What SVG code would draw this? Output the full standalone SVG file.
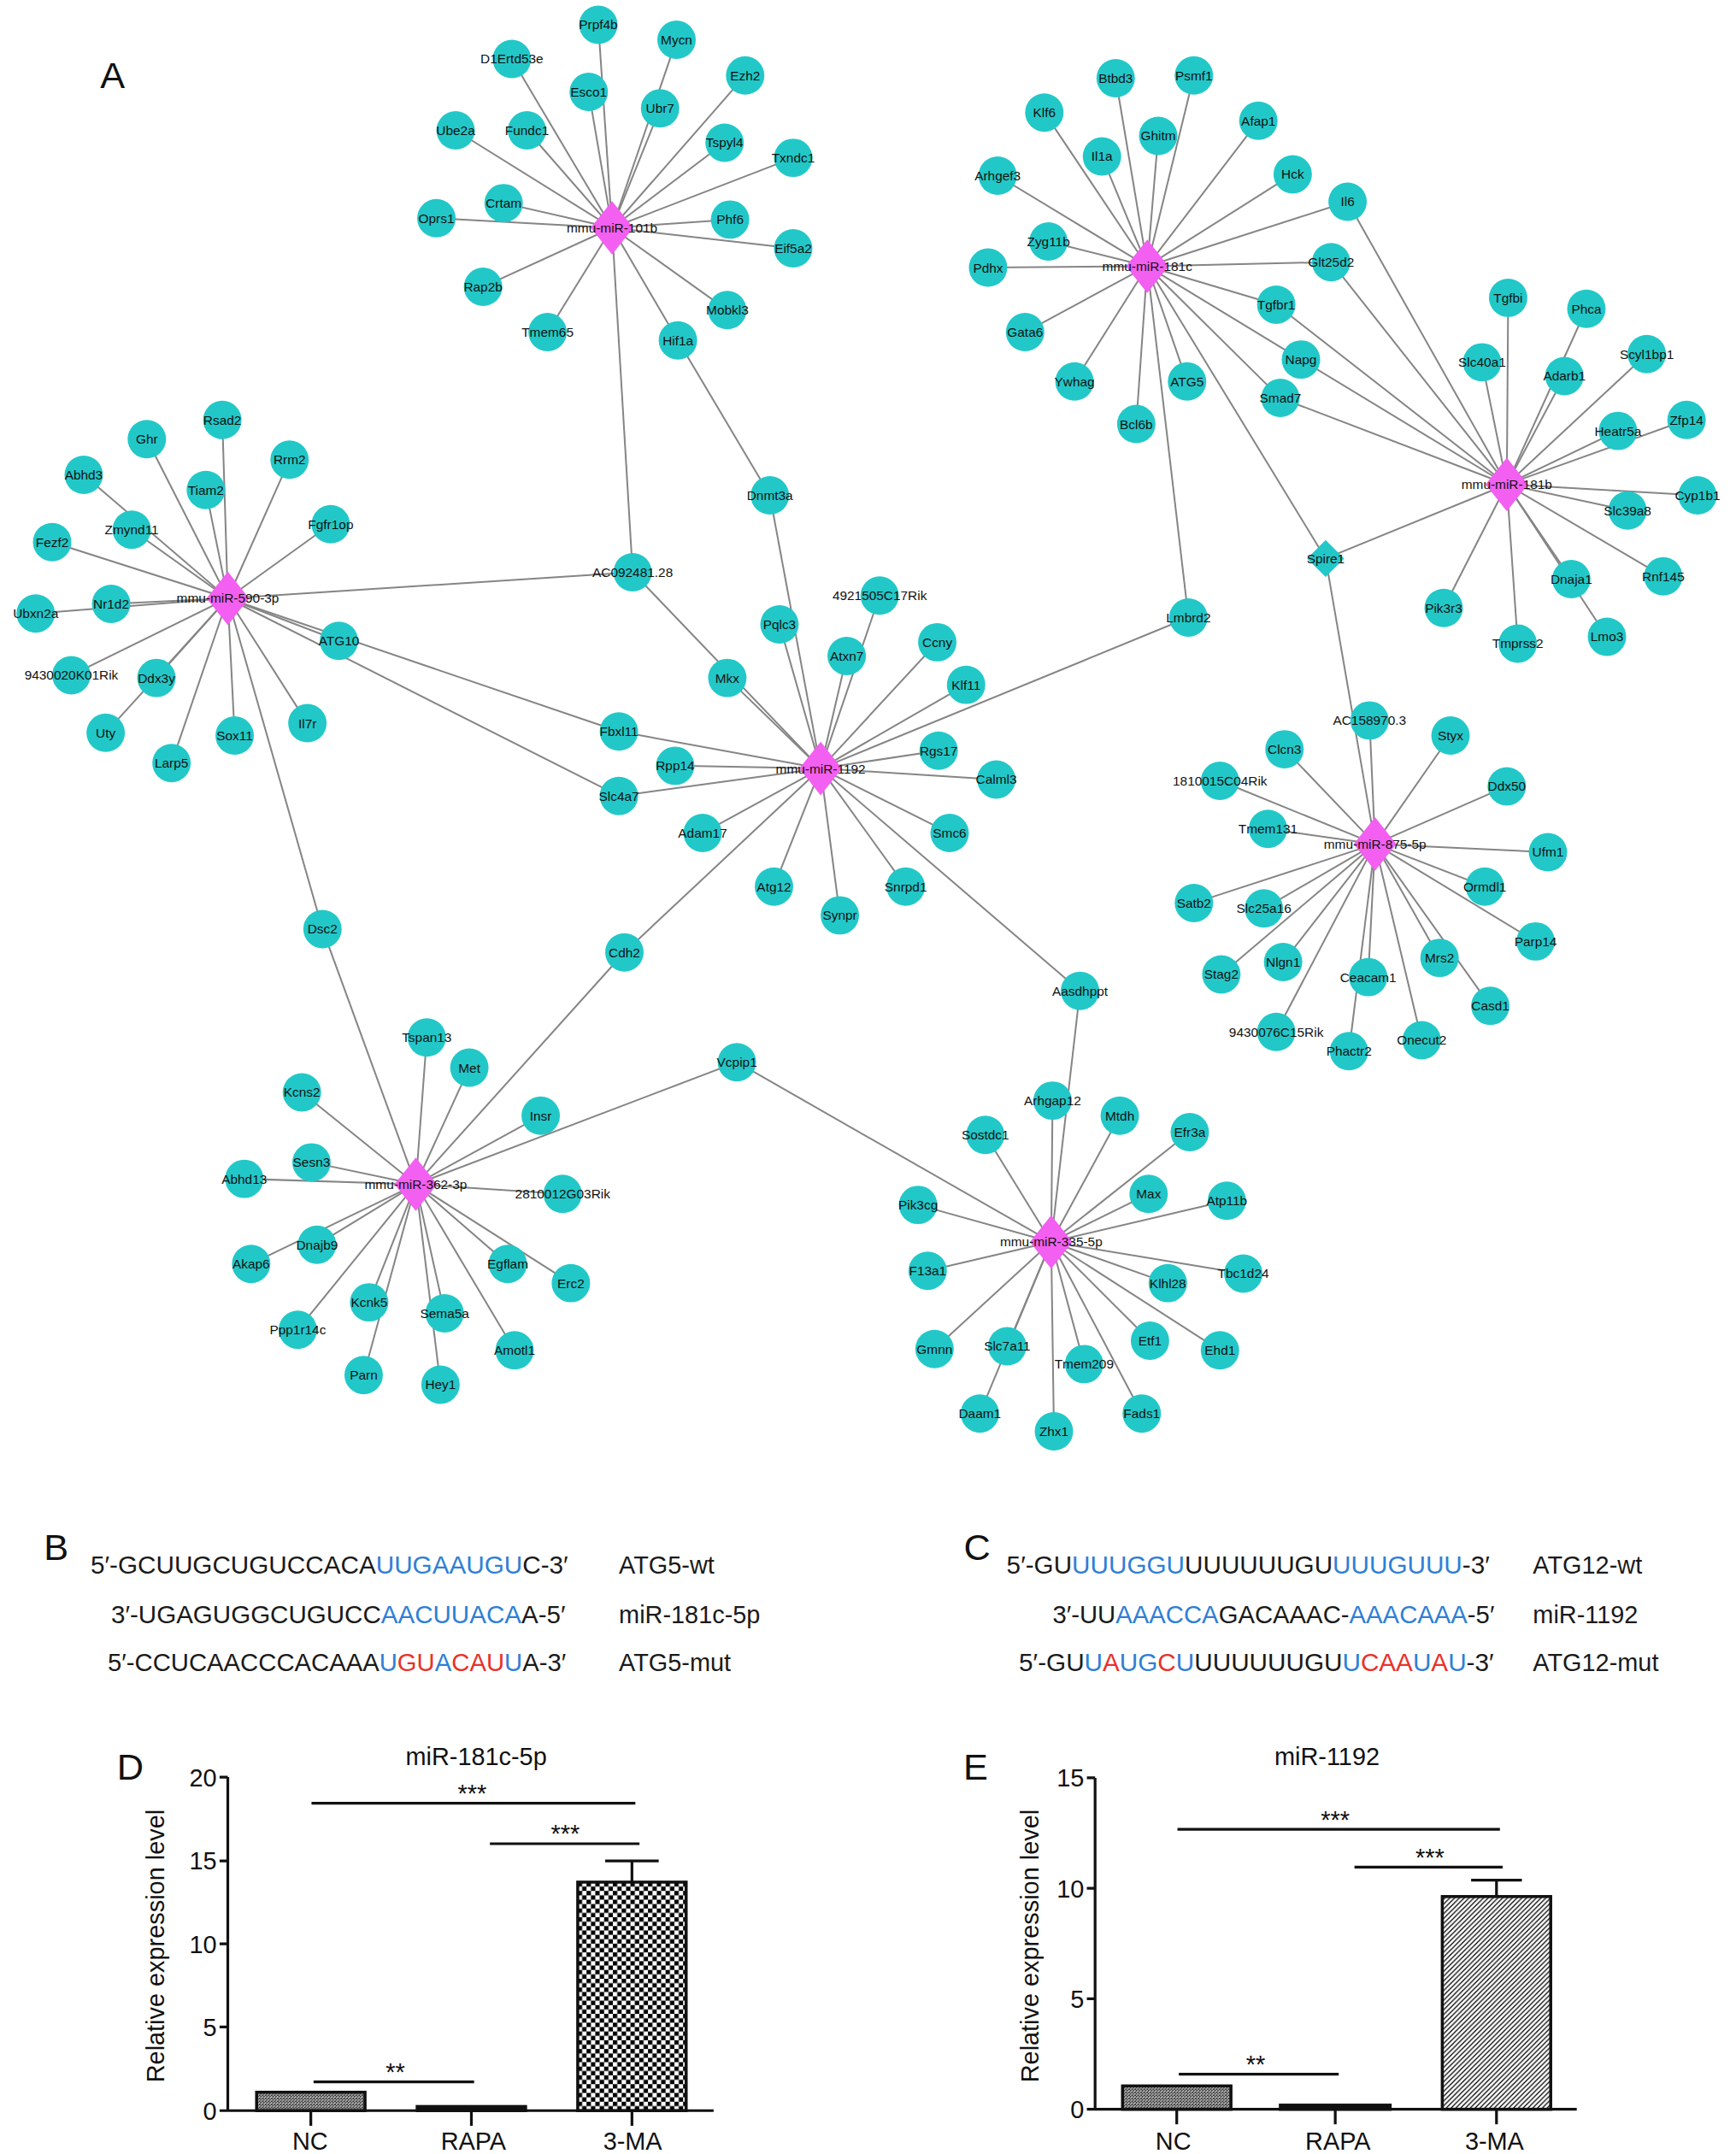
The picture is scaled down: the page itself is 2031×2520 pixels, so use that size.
<svg xmlns="http://www.w3.org/2000/svg" xmlns:xlink="http://www.w3.org/1999/xlink" width="2031" height="2520" viewBox="0 0 2031 2520">
<style>
.e line{stroke:#858585;stroke-width:1.25}
.g circle{fill:#22c8c8}
.nt{font-family:"Liberation Sans",Arial,sans-serif;font-size:9.6px;fill:#111;text-anchor:middle}
.big{font-family:"Liberation Sans",Arial,sans-serif;font-size:27px;fill:#111;text-anchor:middle}
.seq{font-family:"Liberation Sans",Arial,sans-serif;font-size:18px;fill:#1a1a1a}
.bl{fill:#2f7fd6}
.rd{fill:#e8322c}
.ax{stroke:#111;stroke-width:2;fill:none}
.bar{stroke:#111;stroke-width:2.2}
.lab{font-family:"Liberation Sans",Arial,sans-serif;font-size:18px;fill:#111}
.mid{text-anchor:middle}
.end{text-anchor:end}
</style>
<defs>
<polygon id="dia" points="0,-19.5 15.5,0 0,19.5 -15.5,0" fill="#f35ff0"/>
<polygon id="dia2" points="0,-13.5 13.5,0 0,13.5 -13.5,0" fill="#22c8c8"/>
<pattern id="fine" patternUnits="userSpaceOnUse" width="2.2" height="2.2">
<rect width="2.2" height="2.2" fill="#fff"/>
<path d="M0,0L2.2,2.2M2.2,0L0,2.2" stroke="#333" stroke-width="0.7"/>
</pattern>
<pattern id="chk" patternUnits="userSpaceOnUse" x="421" y="1371.5" width="6.4" height="6.4">
<rect width="6.4" height="6.4" fill="#fff"/>
<rect width="3.2" height="3.2" fill="#000"/>
<rect x="3.2" y="3.2" width="3.2" height="3.2" fill="#000"/>
</pattern>
<pattern id="str" patternUnits="userSpaceOnUse" width="3.5" height="3.5">
<rect width="3.5" height="3.5" fill="#fff"/>
<path d="M0,3.5L3.5,0M-1,1L1,-1M2.5,4.5L4.5,2.5" stroke="#000" stroke-width="0.8"/>
</pattern>
</defs>
<rect width="2031" height="2520" fill="#fff"/>
<g transform="scale(1.6055)">
<g id="connectors" class="e">
<line x1="446" y1="166" x2="436" y2="18"/>
<line x1="446" y1="166" x2="493" y2="29"/>
<line x1="446" y1="166" x2="373" y2="43"/>
<line x1="446" y1="166" x2="543" y2="55"/>
<line x1="446" y1="166" x2="429" y2="67"/>
<line x1="446" y1="166" x2="481" y2="79"/>
<line x1="446" y1="166" x2="332" y2="95"/>
<line x1="446" y1="166" x2="384" y2="95"/>
<line x1="446" y1="166" x2="528" y2="104"/>
<line x1="446" y1="166" x2="578" y2="115"/>
<line x1="446" y1="166" x2="367" y2="148"/>
<line x1="446" y1="166" x2="318" y2="159"/>
<line x1="446" y1="166" x2="532" y2="160"/>
<line x1="446" y1="166" x2="578" y2="181"/>
<line x1="446" y1="166" x2="352" y2="209"/>
<line x1="446" y1="166" x2="530" y2="226"/>
<line x1="446" y1="166" x2="399" y2="242"/>
<line x1="446" y1="166" x2="494" y2="248"/>
<line x1="446" y1="166" x2="461" y2="417"/>
<line x1="494" y1="248" x2="561" y2="361"/>
<line x1="836" y1="194" x2="813" y2="57"/>
<line x1="836" y1="194" x2="870" y2="55"/>
<line x1="836" y1="194" x2="761" y2="82"/>
<line x1="836" y1="194" x2="917" y2="88"/>
<line x1="836" y1="194" x2="803" y2="114"/>
<line x1="836" y1="194" x2="844" y2="99"/>
<line x1="836" y1="194" x2="727" y2="128"/>
<line x1="836" y1="194" x2="942" y2="127"/>
<line x1="836" y1="194" x2="982" y2="147"/>
<line x1="836" y1="194" x2="764" y2="176"/>
<line x1="836" y1="194" x2="720" y2="195"/>
<line x1="836" y1="194" x2="970" y2="191"/>
<line x1="836" y1="194" x2="930" y2="222"/>
<line x1="836" y1="194" x2="747" y2="242"/>
<line x1="836" y1="194" x2="948" y2="262"/>
<line x1="836" y1="194" x2="783" y2="278"/>
<line x1="836" y1="194" x2="865" y2="278"/>
<line x1="836" y1="194" x2="933" y2="290"/>
<line x1="836" y1="194" x2="828" y2="309"/>
<line x1="836" y1="194" x2="866" y2="450"/>
<line x1="836" y1="194" x2="966" y2="407"/>
<line x1="1098" y1="353" x2="982" y2="147"/>
<line x1="1098" y1="353" x2="970" y2="191"/>
<line x1="1098" y1="353" x2="930" y2="222"/>
<line x1="1098" y1="353" x2="948" y2="262"/>
<line x1="1098" y1="353" x2="933" y2="290"/>
<line x1="1098" y1="353" x2="1099" y2="217"/>
<line x1="1098" y1="353" x2="1156" y2="225"/>
<line x1="1098" y1="353" x2="1200" y2="258"/>
<line x1="1098" y1="353" x2="1080" y2="264"/>
<line x1="1098" y1="353" x2="1140" y2="274"/>
<line x1="1098" y1="353" x2="1229" y2="306"/>
<line x1="1098" y1="353" x2="1179" y2="314"/>
<line x1="1098" y1="353" x2="1237" y2="361"/>
<line x1="1098" y1="353" x2="1186" y2="372"/>
<line x1="1098" y1="353" x2="1212" y2="420"/>
<line x1="1098" y1="353" x2="1145" y2="422"/>
<line x1="1098" y1="353" x2="1052" y2="443"/>
<line x1="1098" y1="353" x2="1171" y2="464"/>
<line x1="1098" y1="353" x2="1106" y2="469"/>
<line x1="1098" y1="353" x2="966" y2="407"/>
<line x1="1002" y1="615" x2="998" y2="525"/>
<line x1="1002" y1="615" x2="1057" y2="536"/>
<line x1="1002" y1="615" x2="936" y2="546"/>
<line x1="1002" y1="615" x2="889" y2="569"/>
<line x1="1002" y1="615" x2="1098" y2="573"/>
<line x1="1002" y1="615" x2="924" y2="604"/>
<line x1="1002" y1="615" x2="1128" y2="621"/>
<line x1="1002" y1="615" x2="1082" y2="646"/>
<line x1="1002" y1="615" x2="870" y2="658"/>
<line x1="1002" y1="615" x2="921" y2="662"/>
<line x1="1002" y1="615" x2="1119" y2="686"/>
<line x1="1002" y1="615" x2="890" y2="710"/>
<line x1="1002" y1="615" x2="935" y2="701"/>
<line x1="1002" y1="615" x2="1049" y2="698"/>
<line x1="1002" y1="615" x2="997" y2="712"/>
<line x1="1002" y1="615" x2="1086" y2="733"/>
<line x1="1002" y1="615" x2="930" y2="752"/>
<line x1="1002" y1="615" x2="1036" y2="758"/>
<line x1="1002" y1="615" x2="983" y2="766"/>
<line x1="1002" y1="615" x2="966" y2="407"/>
<line x1="598" y1="560" x2="641" y2="434"/>
<line x1="598" y1="560" x2="568" y2="455"/>
<line x1="598" y1="560" x2="617" y2="478"/>
<line x1="598" y1="560" x2="683" y2="468"/>
<line x1="598" y1="560" x2="866" y2="450"/>
<line x1="598" y1="560" x2="530" y2="494"/>
<line x1="598" y1="560" x2="704" y2="499"/>
<line x1="598" y1="560" x2="451" y2="533"/>
<line x1="598" y1="560" x2="492" y2="558"/>
<line x1="598" y1="560" x2="684" y2="547"/>
<line x1="598" y1="560" x2="726" y2="568"/>
<line x1="598" y1="560" x2="451" y2="580"/>
<line x1="598" y1="560" x2="512" y2="607"/>
<line x1="598" y1="560" x2="692" y2="607"/>
<line x1="598" y1="560" x2="564" y2="646"/>
<line x1="598" y1="560" x2="660" y2="646"/>
<line x1="598" y1="560" x2="612" y2="667"/>
<line x1="598" y1="560" x2="455" y2="694"/>
<line x1="598" y1="560" x2="561" y2="361"/>
<line x1="598" y1="560" x2="461" y2="417"/>
<line x1="598" y1="560" x2="787" y2="722"/>
<line x1="166" y1="436" x2="162" y2="306"/>
<line x1="166" y1="436" x2="107" y2="320"/>
<line x1="166" y1="436" x2="211" y2="335"/>
<line x1="166" y1="436" x2="61" y2="346"/>
<line x1="166" y1="436" x2="150" y2="357"/>
<line x1="166" y1="436" x2="96" y2="386"/>
<line x1="166" y1="436" x2="241" y2="382"/>
<line x1="166" y1="436" x2="38" y2="395"/>
<line x1="166" y1="436" x2="81" y2="440"/>
<line x1="166" y1="436" x2="26" y2="447"/>
<line x1="166" y1="436" x2="247" y2="467"/>
<line x1="166" y1="436" x2="52" y2="492"/>
<line x1="166" y1="436" x2="114" y2="494"/>
<line x1="166" y1="436" x2="224" y2="527"/>
<line x1="166" y1="436" x2="77" y2="534"/>
<line x1="166" y1="436" x2="171" y2="536"/>
<line x1="166" y1="436" x2="125" y2="556"/>
<line x1="166" y1="436" x2="461" y2="417"/>
<line x1="166" y1="436" x2="235" y2="677"/>
<line x1="166" y1="436" x2="451" y2="533"/>
<line x1="166" y1="436" x2="451" y2="580"/>
<line x1="303" y1="863" x2="311" y2="756"/>
<line x1="303" y1="863" x2="342" y2="778"/>
<line x1="303" y1="863" x2="220" y2="796"/>
<line x1="303" y1="863" x2="394" y2="813"/>
<line x1="303" y1="863" x2="227" y2="847"/>
<line x1="303" y1="863" x2="178" y2="859"/>
<line x1="303" y1="863" x2="410" y2="870"/>
<line x1="303" y1="863" x2="231" y2="907"/>
<line x1="303" y1="863" x2="183" y2="921"/>
<line x1="303" y1="863" x2="370" y2="921"/>
<line x1="303" y1="863" x2="416" y2="935"/>
<line x1="303" y1="863" x2="269" y2="949"/>
<line x1="303" y1="863" x2="324" y2="957"/>
<line x1="303" y1="863" x2="217" y2="969"/>
<line x1="303" y1="863" x2="375" y2="984"/>
<line x1="303" y1="863" x2="265" y2="1002"/>
<line x1="303" y1="863" x2="321" y2="1009"/>
<line x1="303" y1="863" x2="537" y2="774"/>
<line x1="303" y1="863" x2="455" y2="694"/>
<line x1="303" y1="863" x2="235" y2="677"/>
<line x1="766" y1="905" x2="767" y2="802"/>
<line x1="766" y1="905" x2="816" y2="813"/>
<line x1="766" y1="905" x2="718" y2="827"/>
<line x1="766" y1="905" x2="867" y2="825"/>
<line x1="766" y1="905" x2="837" y2="870"/>
<line x1="766" y1="905" x2="669" y2="878"/>
<line x1="766" y1="905" x2="894" y2="875"/>
<line x1="766" y1="905" x2="676" y2="926"/>
<line x1="766" y1="905" x2="906" y2="928"/>
<line x1="766" y1="905" x2="851" y2="935"/>
<line x1="766" y1="905" x2="838" y2="977"/>
<line x1="766" y1="905" x2="889" y2="984"/>
<line x1="766" y1="905" x2="681" y2="983"/>
<line x1="766" y1="905" x2="734" y2="981"/>
<line x1="766" y1="905" x2="790" y2="994"/>
<line x1="766" y1="905" x2="832" y2="1030"/>
<line x1="766" y1="905" x2="714" y2="1030"/>
<line x1="766" y1="905" x2="768" y2="1043"/>
<line x1="766" y1="905" x2="787" y2="722"/>
<line x1="766" y1="905" x2="537" y2="774"/>
</g>
<g id="nodes">
<g id="n-Prpf4b" class="g"><circle cx="436" cy="18" r="14"/><text class="nt" x="436" y="21.4">Prpf4b</text></g>
<g id="n-Mycn" class="g"><circle cx="493" cy="29" r="14"/><text class="nt" x="493" y="32.4">Mycn</text></g>
<g id="n-D1Ertd53e" class="g"><circle cx="373" cy="43" r="14"/><text class="nt" x="373" y="46.4">D1Ertd53e</text></g>
<g id="n-Ezh2" class="g"><circle cx="543" cy="55" r="14"/><text class="nt" x="543" y="58.4">Ezh2</text></g>
<g id="n-Esco1" class="g"><circle cx="429" cy="67" r="14"/><text class="nt" x="429" y="70.4">Esco1</text></g>
<g id="n-Ubr7" class="g"><circle cx="481" cy="79" r="14"/><text class="nt" x="481" y="82.4">Ubr7</text></g>
<g id="n-Ube2a" class="g"><circle cx="332" cy="95" r="14"/><text class="nt" x="332" y="98.4">Ube2a</text></g>
<g id="n-Fundc1" class="g"><circle cx="384" cy="95" r="14"/><text class="nt" x="384" y="98.4">Fundc1</text></g>
<g id="n-Tspyl4" class="g"><circle cx="528" cy="104" r="14"/><text class="nt" x="528" y="107.4">Tspyl4</text></g>
<g id="n-Txndc1" class="g"><circle cx="578" cy="115" r="14"/><text class="nt" x="578" y="118.4">Txndc1</text></g>
<g id="n-Crtam" class="g"><circle cx="367" cy="148" r="14"/><text class="nt" x="367" y="151.4">Crtam</text></g>
<g id="n-Oprs1" class="g"><circle cx="318" cy="159" r="14"/><text class="nt" x="318" y="162.4">Oprs1</text></g>
<g id="n-Phf6" class="g"><circle cx="532" cy="160" r="14"/><text class="nt" x="532" y="163.4">Phf6</text></g>
<g id="n-Eif5a2" class="g"><circle cx="578" cy="181" r="14"/><text class="nt" x="578" y="184.4">Eif5a2</text></g>
<g id="n-Rap2b" class="g"><circle cx="352" cy="209" r="14"/><text class="nt" x="352" y="212.4">Rap2b</text></g>
<g id="n-Mobkl3" class="g"><circle cx="530" cy="226" r="14"/><text class="nt" x="530" y="229.4">Mobkl3</text></g>
<g id="n-Tmem65" class="g"><circle cx="399" cy="242" r="14"/><text class="nt" x="399" y="245.4">Tmem65</text></g>
<g id="n-Hif1a" class="g"><circle cx="494" cy="248" r="14"/><text class="nt" x="494" y="251.4">Hif1a</text></g>
<g id="n-Btbd3" class="g"><circle cx="813" cy="57" r="14"/><text class="nt" x="813" y="60.4">Btbd3</text></g>
<g id="n-Psmf1" class="g"><circle cx="870" cy="55" r="14"/><text class="nt" x="870" y="58.4">Psmf1</text></g>
<g id="n-Klf6" class="g"><circle cx="761" cy="82" r="14"/><text class="nt" x="761" y="85.4">Klf6</text></g>
<g id="n-Afap1" class="g"><circle cx="917" cy="88" r="14"/><text class="nt" x="917" y="91.4">Afap1</text></g>
<g id="n-Il1a" class="g"><circle cx="803" cy="114" r="14"/><text class="nt" x="803" y="117.4">Il1a</text></g>
<g id="n-Ghitm" class="g"><circle cx="844" cy="99" r="14"/><text class="nt" x="844" y="102.4">Ghitm</text></g>
<g id="n-Arhgef3" class="g"><circle cx="727" cy="128" r="14"/><text class="nt" x="727" y="131.4">Arhgef3</text></g>
<g id="n-Hck" class="g"><circle cx="942" cy="127" r="14"/><text class="nt" x="942" y="130.4">Hck</text></g>
<g id="n-Il6" class="g"><circle cx="982" cy="147" r="14"/><text class="nt" x="982" y="150.4">Il6</text></g>
<g id="n-Zyg11b" class="g"><circle cx="764" cy="176" r="14"/><text class="nt" x="764" y="179.4">Zyg11b</text></g>
<g id="n-Pdhx" class="g"><circle cx="720" cy="195" r="14"/><text class="nt" x="720" y="198.4">Pdhx</text></g>
<g id="n-Glt25d2" class="g"><circle cx="970" cy="191" r="14"/><text class="nt" x="970" y="194.4">Glt25d2</text></g>
<g id="n-Tgfbr1" class="g"><circle cx="930" cy="222" r="14"/><text class="nt" x="930" y="225.4">Tgfbr1</text></g>
<g id="n-Gata6" class="g"><circle cx="747" cy="242" r="14"/><text class="nt" x="747" y="245.4">Gata6</text></g>
<g id="n-Napg" class="g"><circle cx="948" cy="262" r="14"/><text class="nt" x="948" y="265.4">Napg</text></g>
<g id="n-Ywhag" class="g"><circle cx="783" cy="278" r="14"/><text class="nt" x="783" y="281.4">Ywhag</text></g>
<g id="n-ATG5" class="g"><circle cx="865" cy="278" r="14"/><text class="nt" x="865" y="281.4">ATG5</text></g>
<g id="n-Smad7" class="g"><circle cx="933" cy="290" r="14"/><text class="nt" x="933" y="293.4">Smad7</text></g>
<g id="n-Bcl6b" class="g"><circle cx="828" cy="309" r="14"/><text class="nt" x="828" y="312.4">Bcl6b</text></g>
<g id="n-Tgfbi" class="g"><circle cx="1099" cy="217" r="14"/><text class="nt" x="1099" y="220.4">Tgfbi</text></g>
<g id="n-Phca" class="g"><circle cx="1156" cy="225" r="14"/><text class="nt" x="1156" y="228.4">Phca</text></g>
<g id="n-Scyl1bp1" class="g"><circle cx="1200" cy="258" r="14"/><text class="nt" x="1200" y="261.4">Scyl1bp1</text></g>
<g id="n-Slc40a1" class="g"><circle cx="1080" cy="264" r="14"/><text class="nt" x="1080" y="267.4">Slc40a1</text></g>
<g id="n-Adarb1" class="g"><circle cx="1140" cy="274" r="14"/><text class="nt" x="1140" y="277.4">Adarb1</text></g>
<g id="n-Zfp14" class="g"><circle cx="1229" cy="306" r="14"/><text class="nt" x="1229" y="309.4">Zfp14</text></g>
<g id="n-Heatr5a" class="g"><circle cx="1179" cy="314" r="14"/><text class="nt" x="1179" y="317.4">Heatr5a</text></g>
<g id="n-Cyp1b1" class="g"><circle cx="1237" cy="361" r="14"/><text class="nt" x="1237" y="364.4">Cyp1b1</text></g>
<g id="n-Slc39a8" class="g"><circle cx="1186" cy="372" r="14"/><text class="nt" x="1186" y="375.4">Slc39a8</text></g>
<g id="n-Rnf145" class="g"><circle cx="1212" cy="420" r="14"/><text class="nt" x="1212" y="423.4">Rnf145</text></g>
<g id="n-Dnaja1" class="g"><circle cx="1145" cy="422" r="14"/><text class="nt" x="1145" y="425.4">Dnaja1</text></g>
<g id="n-Pik3r3" class="g"><circle cx="1052" cy="443" r="14"/><text class="nt" x="1052" y="446.4">Pik3r3</text></g>
<g id="n-Lmo3" class="g"><circle cx="1171" cy="464" r="14"/><text class="nt" x="1171" y="467.4">Lmo3</text></g>
<g id="n-Tmprss2" class="g"><circle cx="1106" cy="469" r="14"/><text class="nt" x="1106" y="472.4">Tmprss2</text></g>
<g id="n-Spire1"><use xlink:href="#dia2" x="966" y="407"/><text class="nt" x="966" y="410.4">Spire1</text></g>
<g id="n-AC158970.3" class="g"><circle cx="998" cy="525" r="14"/><text class="nt" x="998" y="528.4">AC158970.3</text></g>
<g id="n-Styx" class="g"><circle cx="1057" cy="536" r="14"/><text class="nt" x="1057" y="539.4">Styx</text></g>
<g id="n-Clcn3" class="g"><circle cx="936" cy="546" r="14"/><text class="nt" x="936" y="549.4">Clcn3</text></g>
<g id="n-1810015C04Rik" class="g"><circle cx="889" cy="569" r="14"/><text class="nt" x="889" y="572.4">1810015C04Rik</text></g>
<g id="n-Ddx50" class="g"><circle cx="1098" cy="573" r="14"/><text class="nt" x="1098" y="576.4">Ddx50</text></g>
<g id="n-Tmem131" class="g"><circle cx="924" cy="604" r="14"/><text class="nt" x="924" y="607.4">Tmem131</text></g>
<g id="n-Ufm1" class="g"><circle cx="1128" cy="621" r="14"/><text class="nt" x="1128" y="624.4">Ufm1</text></g>
<g id="n-Ormdl1" class="g"><circle cx="1082" cy="646" r="14"/><text class="nt" x="1082" y="649.4">Ormdl1</text></g>
<g id="n-Satb2" class="g"><circle cx="870" cy="658" r="14"/><text class="nt" x="870" y="661.4">Satb2</text></g>
<g id="n-Slc25a16" class="g"><circle cx="921" cy="662" r="14"/><text class="nt" x="921" y="665.4">Slc25a16</text></g>
<g id="n-Parp14" class="g"><circle cx="1119" cy="686" r="14"/><text class="nt" x="1119" y="689.4">Parp14</text></g>
<g id="n-Stag2" class="g"><circle cx="890" cy="710" r="14"/><text class="nt" x="890" y="713.4">Stag2</text></g>
<g id="n-Nlgn1" class="g"><circle cx="935" cy="701" r="14"/><text class="nt" x="935" y="704.4">Nlgn1</text></g>
<g id="n-Mrs2" class="g"><circle cx="1049" cy="698" r="14"/><text class="nt" x="1049" y="701.4">Mrs2</text></g>
<g id="n-Ceacam1" class="g"><circle cx="997" cy="712" r="14"/><text class="nt" x="997" y="715.4">Ceacam1</text></g>
<g id="n-Casd1" class="g"><circle cx="1086" cy="733" r="14"/><text class="nt" x="1086" y="736.4">Casd1</text></g>
<g id="n-9430076C15Rik" class="g"><circle cx="930" cy="752" r="14"/><text class="nt" x="930" y="755.4">9430076C15Rik</text></g>
<g id="n-Onecut2" class="g"><circle cx="1036" cy="758" r="14"/><text class="nt" x="1036" y="761.4">Onecut2</text></g>
<g id="n-Phactr2" class="g"><circle cx="983" cy="766" r="14"/><text class="nt" x="983" y="769.4">Phactr2</text></g>
<g id="n-4921505C17Rik" class="g"><circle cx="641" cy="434" r="14"/><text class="nt" x="641" y="437.4">4921505C17Rik</text></g>
<g id="n-Pqlc3" class="g"><circle cx="568" cy="455" r="14"/><text class="nt" x="568" y="458.4">Pqlc3</text></g>
<g id="n-Atxn7" class="g"><circle cx="617" cy="478" r="14"/><text class="nt" x="617" y="481.4">Atxn7</text></g>
<g id="n-Ccny" class="g"><circle cx="683" cy="468" r="14"/><text class="nt" x="683" y="471.4">Ccny</text></g>
<g id="n-Lmbrd2" class="g"><circle cx="866" cy="450" r="14"/><text class="nt" x="866" y="453.4">Lmbrd2</text></g>
<g id="n-Mkx" class="g"><circle cx="530" cy="494" r="14"/><text class="nt" x="530" y="497.4">Mkx</text></g>
<g id="n-Klf11" class="g"><circle cx="704" cy="499" r="14"/><text class="nt" x="704" y="502.4">Klf11</text></g>
<g id="n-Fbxl11" class="g"><circle cx="451" cy="533" r="14"/><text class="nt" x="451" y="536.4">Fbxl11</text></g>
<g id="n-Rpp14" class="g"><circle cx="492" cy="558" r="14"/><text class="nt" x="492" y="561.4">Rpp14</text></g>
<g id="n-Rgs17" class="g"><circle cx="684" cy="547" r="14"/><text class="nt" x="684" y="550.4">Rgs17</text></g>
<g id="n-Calml3" class="g"><circle cx="726" cy="568" r="14"/><text class="nt" x="726" y="571.4">Calml3</text></g>
<g id="n-Slc4a7" class="g"><circle cx="451" cy="580" r="14"/><text class="nt" x="451" y="583.4">Slc4a7</text></g>
<g id="n-Adam17" class="g"><circle cx="512" cy="607" r="14"/><text class="nt" x="512" y="610.4">Adam17</text></g>
<g id="n-Smc6" class="g"><circle cx="692" cy="607" r="14"/><text class="nt" x="692" y="610.4">Smc6</text></g>
<g id="n-Atg12" class="g"><circle cx="564" cy="646" r="14"/><text class="nt" x="564" y="649.4">Atg12</text></g>
<g id="n-Snrpd1" class="g"><circle cx="660" cy="646" r="14"/><text class="nt" x="660" y="649.4">Snrpd1</text></g>
<g id="n-Synpr" class="g"><circle cx="612" cy="667" r="14"/><text class="nt" x="612" y="670.4">Synpr</text></g>
<g id="n-Cdh2" class="g"><circle cx="455" cy="694" r="14"/><text class="nt" x="455" y="697.4">Cdh2</text></g>
<g id="n-Dnmt3a" class="g"><circle cx="561" cy="361" r="14"/><text class="nt" x="561" y="364.4">Dnmt3a</text></g>
<g id="n-AC092481.28" class="g"><circle cx="461" cy="417" r="14"/><text class="nt" x="461" y="420.4">AC092481.28</text></g>
<g id="n-Aasdhppt" class="g"><circle cx="787" cy="722" r="14"/><text class="nt" x="787" y="725.4">Aasdhppt</text></g>
<g id="n-Rsad2" class="g"><circle cx="162" cy="306" r="14"/><text class="nt" x="162" y="309.4">Rsad2</text></g>
<g id="n-Ghr" class="g"><circle cx="107" cy="320" r="14"/><text class="nt" x="107" y="323.4">Ghr</text></g>
<g id="n-Rrm2" class="g"><circle cx="211" cy="335" r="14"/><text class="nt" x="211" y="338.4">Rrm2</text></g>
<g id="n-Abhd3" class="g"><circle cx="61" cy="346" r="14"/><text class="nt" x="61" y="349.4">Abhd3</text></g>
<g id="n-Tiam2" class="g"><circle cx="150" cy="357" r="14"/><text class="nt" x="150" y="360.4">Tiam2</text></g>
<g id="n-Zmynd11" class="g"><circle cx="96" cy="386" r="14"/><text class="nt" x="96" y="389.4">Zmynd11</text></g>
<g id="n-Fgfr1op" class="g"><circle cx="241" cy="382" r="14"/><text class="nt" x="241" y="385.4">Fgfr1op</text></g>
<g id="n-Fezf2" class="g"><circle cx="38" cy="395" r="14"/><text class="nt" x="38" y="398.4">Fezf2</text></g>
<g id="n-Nr1d2" class="g"><circle cx="81" cy="440" r="14"/><text class="nt" x="81" y="443.4">Nr1d2</text></g>
<g id="n-Ubxn2a" class="g"><circle cx="26" cy="447" r="14"/><text class="nt" x="26" y="450.4">Ubxn2a</text></g>
<g id="n-ATG10" class="g"><circle cx="247" cy="467" r="14"/><text class="nt" x="247" y="470.4">ATG10</text></g>
<g id="n-9430020K01Rik" class="g"><circle cx="52" cy="492" r="14"/><text class="nt" x="52" y="495.4">9430020K01Rik</text></g>
<g id="n-Ddx3y" class="g"><circle cx="114" cy="494" r="14"/><text class="nt" x="114" y="497.4">Ddx3y</text></g>
<g id="n-Il7r" class="g"><circle cx="224" cy="527" r="14"/><text class="nt" x="224" y="530.4">Il7r</text></g>
<g id="n-Uty" class="g"><circle cx="77" cy="534" r="14"/><text class="nt" x="77" y="537.4">Uty</text></g>
<g id="n-Sox11" class="g"><circle cx="171" cy="536" r="14"/><text class="nt" x="171" y="539.4">Sox11</text></g>
<g id="n-Larp5" class="g"><circle cx="125" cy="556" r="14"/><text class="nt" x="125" y="559.4">Larp5</text></g>
<g id="n-Dsc2" class="g"><circle cx="235" cy="677" r="14"/><text class="nt" x="235" y="680.4">Dsc2</text></g>
<g id="n-Tspan13" class="g"><circle cx="311" cy="756" r="14"/><text class="nt" x="311" y="759.4">Tspan13</text></g>
<g id="n-Met" class="g"><circle cx="342" cy="778" r="14"/><text class="nt" x="342" y="781.4">Met</text></g>
<g id="n-Kcns2" class="g"><circle cx="220" cy="796" r="14"/><text class="nt" x="220" y="799.4">Kcns2</text></g>
<g id="n-Insr" class="g"><circle cx="394" cy="813" r="14"/><text class="nt" x="394" y="816.4">Insr</text></g>
<g id="n-Sesn3" class="g"><circle cx="227" cy="847" r="14"/><text class="nt" x="227" y="850.4">Sesn3</text></g>
<g id="n-Abhd13" class="g"><circle cx="178" cy="859" r="14"/><text class="nt" x="178" y="862.4">Abhd13</text></g>
<g id="n-2810012G03Rik" class="g"><circle cx="410" cy="870" r="14"/><text class="nt" x="410" y="873.4">2810012G03Rik</text></g>
<g id="n-Dnajb9" class="g"><circle cx="231" cy="907" r="14"/><text class="nt" x="231" y="910.4">Dnajb9</text></g>
<g id="n-Akap6" class="g"><circle cx="183" cy="921" r="14"/><text class="nt" x="183" y="924.4">Akap6</text></g>
<g id="n-Egflam" class="g"><circle cx="370" cy="921" r="14"/><text class="nt" x="370" y="924.4">Egflam</text></g>
<g id="n-Erc2" class="g"><circle cx="416" cy="935" r="14"/><text class="nt" x="416" y="938.4">Erc2</text></g>
<g id="n-Kcnk5" class="g"><circle cx="269" cy="949" r="14"/><text class="nt" x="269" y="952.4">Kcnk5</text></g>
<g id="n-Sema5a" class="g"><circle cx="324" cy="957" r="14"/><text class="nt" x="324" y="960.4">Sema5a</text></g>
<g id="n-Ppp1r14c" class="g"><circle cx="217" cy="969" r="14"/><text class="nt" x="217" y="972.4">Ppp1r14c</text></g>
<g id="n-Amotl1" class="g"><circle cx="375" cy="984" r="14"/><text class="nt" x="375" y="987.4">Amotl1</text></g>
<g id="n-Parn" class="g"><circle cx="265" cy="1002" r="14"/><text class="nt" x="265" y="1005.4">Parn</text></g>
<g id="n-Hey1" class="g"><circle cx="321" cy="1009" r="14"/><text class="nt" x="321" y="1012.4">Hey1</text></g>
<g id="n-Vcpip1" class="g"><circle cx="537" cy="774" r="14"/><text class="nt" x="537" y="777.4">Vcpip1</text></g>
<g id="n-Arhgap12" class="g"><circle cx="767" cy="802" r="14"/><text class="nt" x="767" y="805.4">Arhgap12</text></g>
<g id="n-Mtdh" class="g"><circle cx="816" cy="813" r="14"/><text class="nt" x="816" y="816.4">Mtdh</text></g>
<g id="n-Sostdc1" class="g"><circle cx="718" cy="827" r="14"/><text class="nt" x="718" y="830.4">Sostdc1</text></g>
<g id="n-Efr3a" class="g"><circle cx="867" cy="825" r="14"/><text class="nt" x="867" y="828.4">Efr3a</text></g>
<g id="n-Max" class="g"><circle cx="837" cy="870" r="14"/><text class="nt" x="837" y="873.4">Max</text></g>
<g id="n-Pik3cg" class="g"><circle cx="669" cy="878" r="14"/><text class="nt" x="669" y="881.4">Pik3cg</text></g>
<g id="n-Atp11b" class="g"><circle cx="894" cy="875" r="14"/><text class="nt" x="894" y="878.4">Atp11b</text></g>
<g id="n-F13a1" class="g"><circle cx="676" cy="926" r="14"/><text class="nt" x="676" y="929.4">F13a1</text></g>
<g id="n-Tbc1d24" class="g"><circle cx="906" cy="928" r="14"/><text class="nt" x="906" y="931.4">Tbc1d24</text></g>
<g id="n-Klhl28" class="g"><circle cx="851" cy="935" r="14"/><text class="nt" x="851" y="938.4">Klhl28</text></g>
<g id="n-Etf1" class="g"><circle cx="838" cy="977" r="14"/><text class="nt" x="838" y="980.4">Etf1</text></g>
<g id="n-Ehd1" class="g"><circle cx="889" cy="984" r="14"/><text class="nt" x="889" y="987.4">Ehd1</text></g>
<g id="n-Gmnn" class="g"><circle cx="681" cy="983" r="14"/><text class="nt" x="681" y="986.4">Gmnn</text></g>
<g id="n-Slc7a11" class="g"><circle cx="734" cy="981" r="14"/><text class="nt" x="734" y="984.4">Slc7a11</text></g>
<g id="n-Tmem209" class="g"><circle cx="790" cy="994" r="14"/><text class="nt" x="790" y="997.4">Tmem209</text></g>
<g id="n-Fads1" class="g"><circle cx="832" cy="1030" r="14"/><text class="nt" x="832" y="1033.4">Fads1</text></g>
<g id="n-Daam1" class="g"><circle cx="714" cy="1030" r="14"/><text class="nt" x="714" y="1033.4">Daam1</text></g>
<g id="n-Zhx1" class="g"><circle cx="768" cy="1043" r="14"/><text class="nt" x="768" y="1046.4">Zhx1</text></g>
<g id="hub-mmu-miR-101b"><use xlink:href="#dia" x="446" y="166"/><text class="nt" x="446" y="169.4">mmu-miR-101b</text></g>
<g id="hub-mmu-miR-181c"><use xlink:href="#dia" x="836" y="194"/><text class="nt" x="836" y="197.4">mmu-miR-181c</text></g>
<g id="hub-mmu-miR-181b"><use xlink:href="#dia" x="1098" y="353"/><text class="nt" x="1098" y="356.4">mmu-miR-181b</text></g>
<g id="hub-mmu-miR-875-5p"><use xlink:href="#dia" x="1002" y="615"/><text class="nt" x="1002" y="618.4">mmu-miR-875-5p</text></g>
<g id="hub-mmu-miR-1192"><use xlink:href="#dia" x="598" y="560"/><text class="nt" x="598" y="563.4">mmu-miR-1192</text></g>
<g id="hub-mmu-miR-590-3p"><use xlink:href="#dia" x="166" y="436"/><text class="nt" x="166" y="439.4">mmu-miR-590-3p</text></g>
<g id="hub-mmu-miR-362-3p"><use xlink:href="#dia" x="303" y="863"/><text class="nt" x="303" y="866.4">mmu-miR-362-3p</text></g>
<g id="hub-mmu-miR-335-5p"><use xlink:href="#dia" x="766" y="905"/><text class="nt" x="766" y="908.4">mmu-miR-335-5p</text></g>
</g>
<text class="big" x="82" y="64">A</text>
<g id="panel-B">
<text class="big" x="41" y="1137">B</text>
<text class="seq" x="66" y="1146.5" textLength="348" lengthAdjust="spacingAndGlyphs">5′-GCUUGCUGUCCACA<tspan class="bl">UUGAAUGU</tspan>C-3′</text>
<text class="seq" x="81" y="1182.5" textLength="331" lengthAdjust="spacingAndGlyphs">3′-UGAGUGGCUGUCC<tspan class="bl">AACUUACA</tspan>A-5′</text>
<text class="seq" x="78.5" y="1218" textLength="334" lengthAdjust="spacingAndGlyphs">5′-CCUCAACCCACAAA<tspan class="bl">U</tspan><tspan class="rd">GU</tspan><tspan class="bl">A</tspan><tspan class="rd">CAU</tspan><tspan class="bl">U</tspan>A-3′</text>
<text class="seq" x="451" y="1146.5">ATG5-wt</text>
<text class="seq" x="451" y="1182.5">miR-181c-5p</text>
<text class="seq" x="451" y="1218">ATG5-mut</text>
</g>
<g id="panel-C">
<text class="big" x="712" y="1137">C</text>
<text class="seq" x="733.5" y="1146.5" textLength="352" lengthAdjust="spacingAndGlyphs">5′-GU<tspan class="bl">UUUGGU</tspan>UUUUUUGU<tspan class="bl">UUUGUUU</tspan>-3′</text>
<text class="seq" x="767" y="1182.5" textLength="322" lengthAdjust="spacingAndGlyphs">3′-UU<tspan class="bl">AAACCA</tspan>GACAAAC-<tspan class="bl">AAACAAA</tspan>-5′</text>
<text class="seq" x="742.5" y="1218" textLength="346" lengthAdjust="spacingAndGlyphs">5′-GU<tspan class="bl">U</tspan><tspan class="rd">A</tspan><tspan class="bl">UG</tspan><tspan class="rd">C</tspan><tspan class="bl">U</tspan>UUUUUUGU<tspan class="bl">U</tspan><tspan class="rd">CAA</tspan><tspan class="bl">U</tspan><tspan class="rd">A</tspan><tspan class="bl">U</tspan>-3′</text>
<text class="seq" x="1117" y="1146.5">ATG12-wt</text>
<text class="seq" x="1117" y="1182.5">miR-1192</text>
<text class="seq" x="1117" y="1218">ATG12-mut</text>
</g>
<g id="panel-D">
<text class="big" x="95" y="1297">D</text>
<text class="lab mid" x="347" y="1286">miR-181c-5p</text>
<text class="lab mid" transform="translate(119.5,1418) rotate(-90)">Relative expression level</text>
<rect class="bar" x="187" y="1524.6" width="79" height="13.4" fill="url(#fine)"/>
<rect class="bar" x="304" y="1535" width="79" height="3" fill="#111"/>
<rect class="bar" x="421" y="1371.5" width="79" height="166.5" fill="url(#chk)"/>
<path class="ax" d="M460.5,1371.5V1356M441,1356H480"/>
<path class="ax" d="M166,1295V1538H520M160,1295H166M160,1356H166M160,1416.5H166M160,1477H166M160,1538H166M226.5,1538V1549M343.5,1538V1549M460.5,1538V1549"/>
<text class="lab end" x="158" y="1301.5">20</text>
<text class="lab end" x="158" y="1362.5">15</text>
<text class="lab end" x="158" y="1423">10</text>
<text class="lab end" x="158" y="1483.5">5</text>
<text class="lab end" x="158" y="1544.5">0</text>
<text class="lab mid" x="226" y="1566.5">NC</text>
<text class="lab mid" x="345" y="1566.5">RAPA</text>
<text class="lab mid" x="461" y="1566.5">3-MA</text>
<path class="ax" d="M227,1314H463M357,1343.5H466M228.5,1517H345.5"/>
<text class="lab mid" x="344" y="1313">***</text>
<text class="lab mid" x="412" y="1342.5">***</text>
<text class="lab mid" x="288" y="1516">**</text>
</g>
<g id="panel-E">
<text class="big" x="711" y="1297">E</text>
<text class="lab mid" x="967" y="1286">miR-1192</text>
<text class="lab mid" transform="translate(756.5,1418) rotate(-90)">Relative expression level</text>
<rect class="bar" x="818" y="1520" width="79" height="17" fill="url(#fine)"/>
<rect class="bar" x="933" y="1534" width="80" height="3" fill="#111"/>
<rect class="bar" x="1051" y="1382" width="79" height="155" fill="url(#str)"/>
<path class="ax" d="M1090.5,1382V1370M1072,1370H1109"/>
<path class="ax" d="M798,1295.5V1537H1149M792,1295.5H798M792,1376H798M792,1456.5H798M792,1537H798M857.5,1537V1548M973,1537V1548M1090.5,1537V1548"/>
<text class="lab end" x="790" y="1302">15</text>
<text class="lab end" x="790" y="1382.5">10</text>
<text class="lab end" x="790" y="1463">5</text>
<text class="lab end" x="790" y="1543.5">0</text>
<text class="lab mid" x="855" y="1566.5">NC</text>
<text class="lab mid" x="975" y="1566.5">RAPA</text>
<text class="lab mid" x="1089" y="1566.5">3-MA</text>
<path class="ax" d="M858,1333H1093M987,1360.5H1095M859,1511.5H975.5"/>
<text class="lab mid" x="973" y="1332">***</text>
<text class="lab mid" x="1042" y="1359.5">***</text>
<text class="lab mid" x="915" y="1510.5">**</text>
</g>
</g>
</svg>
